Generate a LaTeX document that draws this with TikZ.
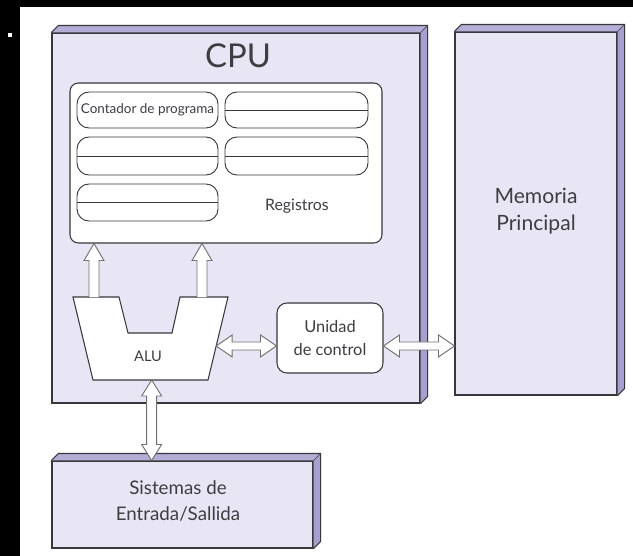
\documentclass[tikz,border=0pt]{standalone}
\usepackage{fontspec}
\setmainfont{Lato}
\usetikzlibrary{calc,fit}

\definecolor{facecol}{RGB}{232,230,244}
\definecolor{topcol}{RGB}{180,174,214}
\definecolor{sidecol}{RGB}{166,160,208}
\definecolor{edgecol}{RGB}{55,55,60}
\definecolor{arrowcol}{RGB}{112,112,112}
\definecolor{txtcol}{RGB}{62,62,66}

\tikzset{
  box/.style={draw=edgecol, fill=facecol, inner sep=0pt, line width=0.9pt},
  panel/.style={draw=edgecol, fill=white, inner sep=0pt, line width=0.9pt, rounded corners=0.25cm},
  slot/.style={draw=edgecol, fill=white, inner sep=0pt, line width=0.8pt, rounded corners=0.36cm},
  fat/.style={draw=arrowcol, fill=white, line width=0.8pt, line join=miter},
  txt/.style={text=txtcol, align=center, inner sep=0pt},
}

% side and top faces of a box node
\newcommand{\depthfaces}[1]{%
  \fill[topcol] (#1.north west) -- ++(7,-7) -- ($(#1.north east)+(7,-7)$) -- (#1.north east) -- cycle;
  \fill[sidecol] (#1.north east) -- ++(7,-7) -- ($(#1.south east)+(7,-7)$) -- (#1.south east) -- cycle;
  \draw[edgecol, line width=0.9pt] (#1.north west) -- ++(7,-7) -- ($(#1.north east)+(7,-7)$) -- ($(#1.south east)+(7,-7)$) -- (#1.south east);
  \draw[edgecol, line width=0.5pt] (#1.north east) -- ++(7,-7);
}
% hollow arrows
\newcommand{\fatup}[2]{%
  \draw[fat] ($(#1)+(-5,0)$) -- ($(#2)+(-5,17)$) -- ($(#2)+(-10,17)$) -- (#2) -- ($(#2)+(10,17)$) -- ($(#2)+(5,17)$) -- ($(#1)+(5,0)$);
}
\newcommand{\fathoriz}[2]{%
  \draw[fat] (#1) -- ($(#1)+(16,-11)$) -- ($(#1)+(16,-4)$) -- ($(#2)+(-16,-4)$) -- ($(#2)+(-16,-11)$) -- (#2) -- ($(#2)+(-16,11)$) -- ($(#2)+(-16,4)$) -- ($(#1)+(16,4)$) -- ($(#1)+(16,11)$) -- cycle;
}
\newcommand{\fatvert}[2]{%
  \draw[fat] (#1) -- ($(#1)+(10,16)$) -- ($(#1)+(5,16)$) -- ($(#2)+(5,-16)$) -- ($(#2)+(10,-16)$) -- (#2) -- ($(#2)+(-10,-16)$) -- ($(#2)+(-5,-16)$) -- ($(#1)+(-5,16)$) -- ($(#1)+(-10,16)$) -- cycle;
}

\begin{document}
\begin{tikzpicture}[x=0.03cm,y=-0.03cm]

\useasboundingbox (0,0) rectangle (633,556);
\fill[black] (0,0) rectangle (633,556);
\fill[white] (20,7) rectangle (633,556);
\fill[white] (8,33) rectangle (12,37);

% boxes
\node[box, fit={(52,33)(420,403)}] (cpu) {};
\depthfaces{cpu}
\node[box, fit={(455,32)(617,395)}] (mem) {};
\depthfaces{mem}
\node[box, fit={(52,461)(313,548)}] (io) {};
\depthfaces{io}

\node[txt, font=\fontsize{28}{30}\selectfont] (cputitle) at (238,56) {CPU};
\node[txt, font=\fontsize{18}{23}\selectfont] (memtext) at (536,211) {Memoria\\Principal};
\node[txt, font=\fontsize{16}{23}\selectfont] (iotext) at (178,501) {Sistemas de\\Entrada/Sallida};

% registros
\node[panel, fit={(70,83)(382,243)}] (reg) {};
\node[slot, fit={(77,92)(218,128)}] (r0) {};
\node[slot, fit={(225,92)(368,128)}] (r1) {};
\node[slot, fit={(77,137)(218,175)}] (r2) {};
\node[slot, fit={(225,137)(368,175)}] (r3) {};
\node[slot, fit={(77,184)(218,221)}] (r4) {};
\foreach \s in {r1,r2,r3,r4}
  \draw[edgecol, line width=0.8pt] (\s.west) -- (\s.east);
\node[txt, font=\fontsize{11.5}{13}\selectfont] at (r0) {Contador de programa};
\node[txt, font=\fontsize{13.5}{16}\selectfont] (regtext) at (297,206) {Registros};

% ALU
\coordinate (a1) at (73,297);
\coordinate (a2) at (228,297);
\coordinate (a3) at (208,380);
\coordinate (a4) at (93,380);
\draw[edgecol, fill=white, line width=0.9pt, line join=miter] (a1) -- (119,297) -- (128,333) -- (172,333) -- (180,297) -- (a2) -- (a3) -- (a4) -- cycle;
\node[txt, font=\fontsize{12.5}{14}\selectfont] (alu) at (148,356) {ALU};
\coordinate (alur) at ($(a2)!0.59!(a3)$);
\coordinate (alub) at ($(a4)!0.51!(a3)$);

% unidad de control
\node[box, fill=white, rounded corners=0.3cm, fit={(277,303)(383,373)}] (uc) {};
\node[txt, font=\fontsize{14}{19}\selectfont] (uctext) at (uc) {Unidad\\de control};

% flechas
\coordinate (up1) at (94,297);
\coordinate (up2) at (202,297);
\fatup{up1}{up1 |- reg.south}
\fatup{up2}{up2 |- reg.south}
\fathoriz{alur}{alur -| uc.west}
\fathoriz{alur -| uc.east}{alur -| mem.west}
\fatvert{alub}{alub |- io.north}

\end{tikzpicture}
\end{document}
